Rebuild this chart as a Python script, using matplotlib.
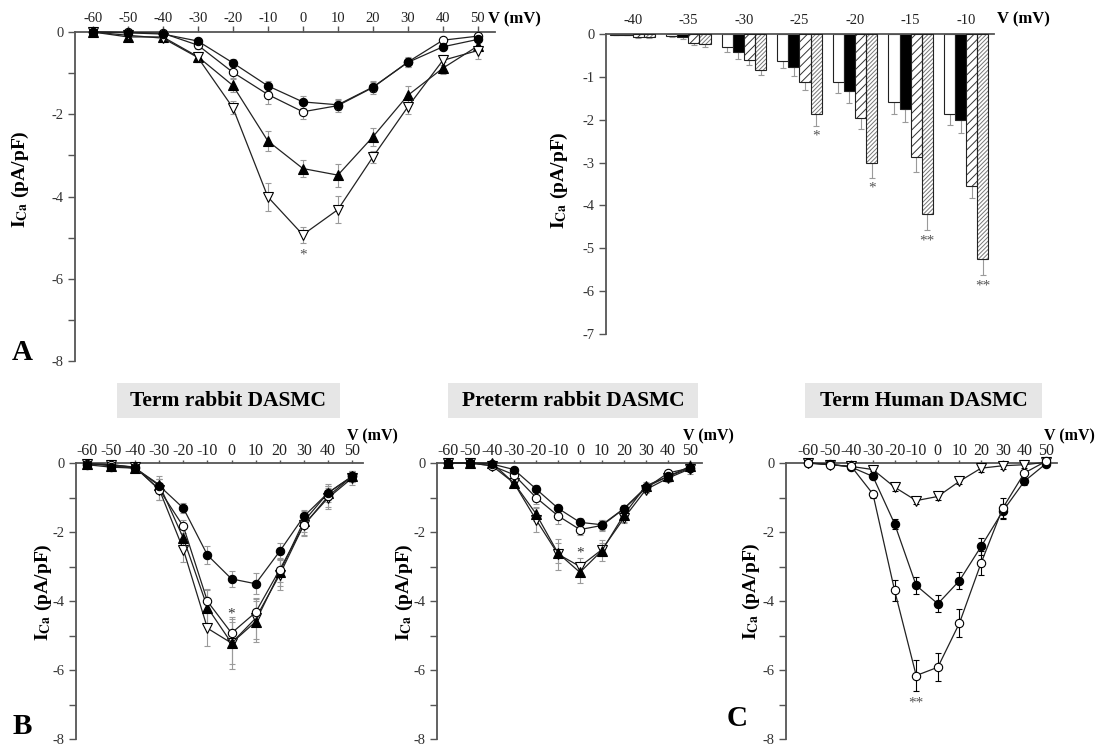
import numpy as np
import matplotlib
matplotlib.use("Agg")
import matplotlib.pyplot as plt
from matplotlib.patches import Rectangle

plt.rcParams['font.family'] = ['Liberation Serif', 'DejaVu Serif']
plt.rcParams['mathtext.fontset'] = 'stix'
plt.rcParams['axes.unicode_minus'] = False
plt.rcParams['hatch.linewidth'] = 0.7

W, H = 1097, 748

volts = [-60, -50, -40, -30, -20, -10, 0, 10, 20, 30, 40, 50]

# panel A, I-V curves
a_fill_circle = [0, -0.02, -0.05, -0.22, -0.75, -1.31, -1.70, -1.77, -1.34, -0.74, -0.36, -0.18]
a_open_circle = [0, -0.01, -0.03, -0.32, -0.98, -1.52, -1.94, -1.79, -1.35, -0.73, -0.20, -0.10]
a_fill_tri = [0, -0.12, -0.12, -0.60, -1.30, -2.65, -3.32, -3.48, -2.55, -1.54, -0.88, -0.34]
a_open_tri = [0, -0.08, -0.15, -0.62, -1.84, -4.01, -4.93, -4.32, -3.04, -1.82, -0.69, -0.45]
a_fill_circle_err = [0.03, 0.03, 0.04, 0.07, 0.10, 0.12, 0.14, 0.12, 0.12, 0.10, 0.08, 0.06]
a_open_circle_err = [0.03, 0.03, 0.04, 0.10, 0.15, 0.22, 0.18, 0.15, 0.15, 0.12, 0.08, 0.06]
a_fill_tri_err = [0.05, 0.05, 0.07, 0.12, 0.15, 0.25, 0.20, 0.28, 0.22, 0.22, 0.15, 0.12]
a_open_tri_err = [0.05, 0.05, 0.08, 0.12, 0.16, 0.35, 0.20, 0.33, 0.15, 0.18, 0.12, 0.20]

# panel A, bars
bar_volts = [-40, -35, -30, -25, -20, -15, -10]
bar_white = [-0.02, -0.05, -0.31, -0.63, -1.13, -1.58, -1.86]
bar_black = [-0.02, -0.08, -0.42, -0.76, -1.33, -1.76, -2.00]
bar_sparse = [-0.07, -0.20, -0.60, -1.12, -1.95, -2.88, -3.55]
bar_dense = [-0.07, -0.24, -0.83, -1.86, -3.02, -4.21, -5.24]
bar_white_err = [0.01, 0.03, 0.11, 0.17, 0.24, 0.29, 0.27]
bar_black_err = [0.01, 0.03, 0.16, 0.21, 0.27, 0.29, 0.30]
bar_sparse_err = [0.02, 0.06, 0.12, 0.18, 0.27, 0.34, 0.27]
bar_dense_err = [0.02, 0.06, 0.13, 0.28, 0.33, 0.36, 0.38]
bar_stars = ['', '', '', '*', '*', '**', '**']

# panel B, term rabbit
b_fill_circle = [-0.05, -0.12, -0.15, -0.66, -1.31, -2.67, -3.36, -3.50, -2.56, -1.55, -0.87, -0.39]
b_open_circle = [-0.02, -0.05, -0.13, -0.77, -1.84, -4.01, -4.93, -4.33, -3.09, -1.81, -0.97, -0.39]
b_fill_tri = [-0.02, -0.08, -0.15, -0.63, -2.18, -4.19, -5.22, -4.60, -3.17, -1.69, -0.87, -0.39]
b_open_tri = [-0.02, -0.05, -0.12, -0.77, -2.51, -4.79, -5.22, -4.50, -3.24, -1.79, -1.02, -0.44]
b_fill_circle_err = [0.05, 0.05, 0.05, 0.20, 0.15, 0.25, 0.22, 0.30, 0.25, 0.20, 0.20, 0.12]
b_open_circle_err = [0.05, 0.05, 0.05, 0.30, 0.20, 0.35, 0.40, 0.40, 0.35, 0.30, 0.30, 0.15]
b_fill_tri_err = [0.05, 0.05, 0.05, 0.25, 0.30, 0.50, 0.60, 0.60, 0.40, 0.30, 0.25, 0.15]
b_open_tri_err = [0.05, 0.05, 0.06, 0.30, 0.35, 0.50, 0.75, 0.60, 0.45, 0.30, 0.30, 0.20]

# preterm rabbit
p_fill_circle = [0, 0, -0.03, -0.19, -0.75, -1.31, -1.72, -1.79, -1.32, -0.70, -0.39, -0.15]
p_open_circle = [0, 0, -0.08, -0.34, -1.00, -1.53, -1.93, -1.81, -1.33, -0.73, -0.29, -0.15]
p_fill_tri = [0, 0, 0, -0.58, -1.47, -2.61, -3.17, -2.54, -1.50, -0.66, -0.39, -0.10]
p_open_tri = [0, 0, -0.08, -0.58, -1.64, -2.64, -3.00, -2.51, -1.60, -0.77, -0.44, -0.17]
p_fill_circle_err = [0.03, 0.03, 0.03, 0.06, 0.10, 0.10, 0.12, 0.15, 0.10, 0.08, 0.08, 0.06]
p_open_circle_err = [0.03, 0.03, 0.04, 0.08, 0.20, 0.25, 0.15, 0.15, 0.12, 0.10, 0.10, 0.08]
p_fill_tri_err = [0.03, 0.03, 0.04, 0.10, 0.20, 0.30, 0.30, 0.30, 0.20, 0.12, 0.10, 0.10]
p_open_tri_err = [0.03, 0.03, 0.05, 0.10, 0.35, 0.45, 0.25, 0.20, 0.15, 0.10, 0.10, 0.15]

# panel C, term human
c_fill_circle = [0, -0.03, -0.12, -0.39, -1.76, -3.55, -4.08, -3.41, -2.42, -1.40, -0.53, -0.02]
c_open_circle = [0, -0.05, -0.10, -0.90, -3.69, -6.16, -5.92, -4.64, -2.90, -1.31, -0.29, 0.05]
c_open_tri = [0, -0.05, -0.10, -0.19, -0.70, -1.09, -0.97, -0.53, -0.15, -0.08, -0.05, 0.02]
c_fill_circle_err = [0.03, 0.03, 0.05, 0.08, 0.15, 0.25, 0.25, 0.25, 0.25, 0.20, 0.10, 0.05]
c_open_circle_err = [0.03, 0.03, 0.05, 0.10, 0.30, 0.45, 0.40, 0.40, 0.35, 0.30, 0.10, 0.05]
c_open_tri_err = [0.03, 0.03, 0.04, 0.05, 0.10, 0.10, 0.10, 0.08, 0.10, 0.10, 0.10, 0.05]

AXIS_COLOR = '#555555'
ERR_GRAY = '#9a9a9a'
YLABEL = r'$\mathbf{I}_{\mathbf{Ca}}$ (pA/pF)'

fig = plt.figure(figsize=(W / 100, H / 100), dpi=100)


def px_axes(left, top, right, bottom):
    return fig.add_axes([left / W, 1 - bottom / H, (right - left) / W, (bottom - top) / H])


def style_axes(ax, xsize=10.5, xlen=4, xpad=1):
    for side in ['bottom', 'right']:
        ax.spines[side].set_visible(False)
    for side in ['top', 'left']:
        ax.spines[side].set_color(AXIS_COLOR)
        ax.spines[side].set_linewidth(1.3)
    ax.xaxis.tick_top()
    ax.tick_params(axis='x', direction='out', length=xlen, width=1, pad=xpad,
                   labelsize=xsize, color=AXIS_COLOR, labelcolor='#222222')
    ax.tick_params(axis='y', which='both', direction='out', length=5, width=1, pad=3,
                   labelsize=10.5, color=AXIS_COLOR, labelcolor='#333333')
    ax.patch.set_visible(False)


def series(ax, y, err, marker, face, ecolor):
    eb = ax.errorbar(volts, y, yerr=err, fmt='none', ecolor=ecolor, elinewidth=0.8,
                     capsize=2.5, capthick=0.8, zorder=2)
    for art in eb.get_children():
        art.set_clip_on(False)
    ax.plot(volts, y, color='#222222', lw=0.9, marker=marker, markersize=6.5 if marker != 'o' else 6,
            markerfacecolor=face, markeredgecolor='black', markeredgewidth=0.8,
            clip_on=False, zorder=4)


def iv_panel(rect, xlim, curves, ecolor, small=True):
    ax = px_axes(*rect)
    ax.set_xlim(*xlim)
    ax.set_ylim(-8, 0)
    ax.set_xticks(volts)
    ax.set_xticklabels([str(v) for v in volts])
    ax.set_yticks([0, -2, -4, -6, -8])
    ax.set_yticklabels(['0', '-2', '-4', '-6', '-8'])
    ax.set_yticks([-1, -3, -5, -7], minor=True)
    if small:
        style_axes(ax, xsize=11.5, xlen=2.5, xpad=0.3)
    else:
        style_axes(ax)
    for y, err, marker, face in curves:
        series(ax, y, err, marker, face, ecolor)
    return ax


# ---- panel A left
ax_a = iv_panel((75, 32, 495, 361), (-65.1, 54.9), [
    (a_fill_tri, a_fill_tri_err, '^', 'black'),
    (a_open_tri, a_open_tri_err, 'v', 'white'),
    (a_open_circle, a_open_circle_err, 'o', 'white'),
    (a_fill_circle, a_fill_circle_err, 'o', 'black'),
], ERR_GRAY, small=False)
ax_a.text(0, -5.42, '*', ha='center', va='center', fontsize=11, color='#555555')

# ---- panel A bars
ax_bar = px_axes(606, 34, 994, 334)
ax_bar.set_xlim(-42.4, -7.5)
ax_bar.set_ylim(-7, 0)
ax_bar.set_xticks(bar_volts)
ax_bar.set_xticklabels([str(v) for v in bar_volts])
ax_bar.set_yticks(range(0, -8, -1))
ax_bar.set_yticklabels([str(v) for v in range(0, -8, -1)])
style_axes(ax_bar)
ax_bar.tick_params(axis='x', length=0, pad=5)

bw = 1.0
bx = np.array(bar_volts, dtype=float)
groups = [
    (bar_white, bar_white_err, 'white', None, 'black'),
    (bar_black, bar_black_err, 'black', None, 'black'),
    (bar_sparse, bar_sparse_err, 'white', '////', '#333333'),
    (bar_dense, bar_dense_err, 'white', '////////', '#777777'),
]
for i, (vals, err, face, hatch, hcol) in enumerate(groups):
    xs = bx + (i - 1.5) * bw
    ax_bar.errorbar(xs, vals, yerr=[err, [0] * len(err)], fmt='none', ecolor=ERR_GRAY,
                    elinewidth=0.8, capsize=2.5, capthick=0.8, zorder=1)
    if hatch:
        ax_bar.bar(xs, vals, width=bw, color=face, edgecolor=hcol, hatch=hatch,
                   linewidth=0, zorder=2)
        ax_bar.bar(xs, vals, width=bw, fill=False, edgecolor='#222222', linewidth=0.8, zorder=3)
    else:
        ax_bar.bar(xs, vals, width=bw, color=face, edgecolor='#222222', linewidth=0.8, zorder=2)
dense_x = bx + 1.5 * bw
for x, v, e, s in zip(dense_x, bar_dense, bar_dense_err, bar_stars):
    if s:
        ax_bar.text(x, v - e - 0.25, s, ha='center', va='center', fontsize=11, color='#555555')

# ---- panel B, term rabbit
ax_b = iv_panel((76, 463, 363, 739), (-64.6, 54.6), [
    (b_open_tri, b_open_tri_err, 'v', 'white'),
    (b_fill_tri, b_fill_tri_err, '^', 'black'),
    (b_open_circle, b_open_circle_err, 'o', 'white'),
    (b_fill_circle, b_fill_circle_err, 'o', 'black'),
], ERR_GRAY)
ax_b.text(0, -4.38, '*', ha='center', va='center', fontsize=11, color='#333333')

# ---- preterm rabbit
ax_p = iv_panel((437, 463, 702, 739), (-65.0, 55.5), [
    (p_open_tri, p_open_tri_err, 'v', 'white'),
    (p_fill_tri, p_fill_tri_err, '^', 'black'),
    (p_open_circle, p_open_circle_err, 'o', 'white'),
    (p_fill_circle, p_fill_circle_err, 'o', 'black'),
], ERR_GRAY)
ax_p.text(0, -2.6, '*', ha='center', va='center', fontsize=11, color='#333333')

# ---- panel C, term human
ax_c = iv_panel((786, 463, 1057, 739), (-70.2, 55.1), [
    (c_open_tri, c_open_tri_err, 'v', 'white'),
    (c_fill_circle, c_fill_circle_err, 'o', 'black'),
    (c_open_circle, c_open_circle_err, 'o', 'white'),
], 'black')
ax_c.text(-10, -6.95, '**', ha='center', va='center', fontsize=11, color='#555555')

# ---- figure texts
def ftext(x, y, s, **kw):
    fig.text(x / W, 1 - y / H, s, **kw)


for x, y in [(20, 179), (559, 180), (43, 592), (404, 592), (751, 591)]:
    ftext(x, y, YLABEL, rotation=90, ha='center', va='center', fontsize=14, fontweight='bold')

ftext(488, 19, 'V (mV)', ha='left', va='center', fontsize=12, fontweight='bold')
ftext(997, 19, 'V (mV)', ha='left', va='center', fontsize=12, fontweight='bold')
ftext(347, 436, 'V (mV)', ha='left', va='center', fontsize=11.5, fontweight='bold')
ftext(683, 436, 'V (mV)', ha='left', va='center', fontsize=11.5, fontweight='bold')
ftext(1095, 436, 'V (mV)', ha='right', va='center', fontsize=11.5, fontweight='bold')

for x, y, s in [(22, 353, 'A'), (22, 726, 'B'), (737, 718, 'C')]:
    ftext(x, y, s, ha='center', va='center', fontsize=21, fontweight='bold')

titles = [('Term rabbit DASMC', 117, 340), ('Preterm rabbit DASMC', 448, 698),
          ('Term Human DASMC', 805, 1042)]
for s, x0, x1 in titles:
    fig.add_artist(Rectangle((x0 / W, 1 - 418 / H), (x1 - x0) / W, 35 / H,
                             transform=fig.transFigure, facecolor='#e6e6e6',
                             edgecolor='none', zorder=0))
    ftext((x0 + x1) / 2, 401, s, ha='center', va='center', fontsize=15.5, fontweight='bold')

fig.savefig('out.png', dpi=100)
